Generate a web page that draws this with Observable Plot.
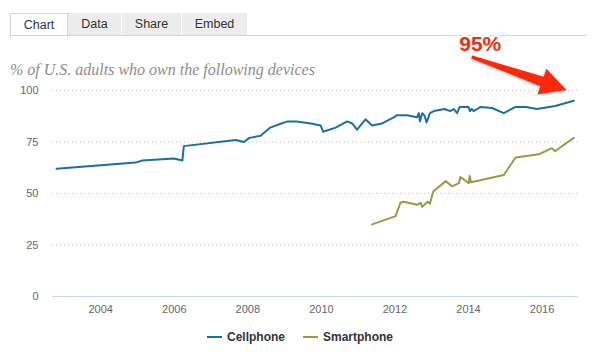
<!DOCTYPE html>
<html><head><meta charset="utf-8">
<script src="https://cdn.jsdelivr.net/npm/d3@7"></script>
<script src="https://cdn.jsdelivr.net/npm/@observablehq/plot@0.6"></script>
<style>
body{margin:0;background:#fff;width:600px;height:361px;overflow:hidden;font-family:"Liberation Sans",Arial,sans-serif;}
#header{position:relative;height:80px;}
.tabs{position:absolute;left:10px;top:13px;height:23px;display:flex;}
.tab{box-sizing:border-box;height:23px;line-height:22px;font-size:12.5px;color:#333;text-align:center;background:#ececec;border-right:1px solid #fff;}
.tab.active{background:#fff;border:1px solid #d8d8d8;border-bottom:none;height:24px;}
.rule{position:absolute;left:10px;width:577px;top:35px;border-top:1px solid #d6d6d6;}
.subtitle{position:absolute;left:10px;top:61px;font:italic 16px "Liberation Serif","DejaVu Serif",Georgia,serif;color:#8c8c8c;white-space:nowrap;}
#chart{position:relative;height:245px;}
#legend{position:absolute;left:0;top:329px;width:600px;height:16px;display:flex;justify-content:center;align-items:center;font:bold 12px "Liberation Sans",Arial,sans-serif;color:#333;}
.item{display:flex;align-items:center;margin:0 9px;}
.sw{width:15px;height:2px;margin-right:5px;}
</style>
</head><body>
<div id="header">
  <div class="tabs">
    <div class="tab active" style="width:58px">Chart</div>
    <div class="tab" style="width:54px">Data</div>
    <div class="tab" style="width:60px">Share</div>
    <div class="tab" style="width:66px">Embed</div>
  </div>
  <div class="rule"></div>
  <div class="subtitle">% of U.S. adults who own the following devices</div>
</div>
<div id="chart"></div>
<div id="legend"></div>
<script>
// ---- data (decimal years, % of adults) ----
const seriesNames = ["Cellphone", "Smartphone"];
const seriesColors = ["#1d6ea6", "#8fa044"];

const cellYears = [2002.80, 2004.95, 2005.13, 2005.99, 2006.22, 2006.26, 2007.67, 2007.90, 2008.04, 2008.35,
  2008.61, 2008.91, 2009.08, 2009.32, 2009.71, 2009.98, 2010.05, 2010.39, 2010.70, 2010.84,
  2010.97, 2011.20, 2011.38, 2011.65, 2011.97, 2012.06, 2012.15, 2012.33, 2012.60, 2012.65,
  2012.68, 2012.74, 2012.80, 2012.86, 2012.95, 2013.06, 2013.35, 2013.50, 2013.60, 2013.69,
  2013.76, 2014.00, 2014.04, 2014.09, 2014.14, 2014.33, 2014.64, 2014.96, 2015.28, 2015.57,
  2015.86, 2016.36, 2016.86];
const cellValues = [62, 65, 66, 67, 66, 73, 76, 75, 77, 78,
  82, 84, 85, 85, 84, 83, 80, 82, 85, 84,
  81, 86, 83, 84, 87, 88, 88, 88, 87, 89,
  85, 89, 88, 84.5, 89, 90, 91, 90, 91, 89,
  92, 92, 90, 91, 90, 92, 91.5, 89, 92, 92,
  91, 92.5, 95];

const smartYears = [2011.38, 2012.02, 2012.15, 2012.24, 2012.60, 2012.70, 2012.74, 2012.89, 2012.95, 2013.04,
  2013.38, 2013.55, 2013.74, 2013.78, 2014.01, 2014.03, 2014.07, 2014.96, 2015.28, 2015.91,
  2016.27, 2016.35, 2016.86];
const smartValues = [35, 39, 45.5, 46, 44.5, 45.5, 43.5, 46, 45, 51,
  56, 53.5, 55, 58, 55, 58.5, 55.5, 59, 67.5, 69,
  72, 70.5, 77];

const yTicks = [0, 25, 50, 75, 100];
const xTickYears = [2004, 2006, 2008, 2010, 2012, 2014, 2016];
const xDomainYears = [2002.69, 2016.99];

// annotation anchors (decimal year, %)
const annoText = "95%";
const annoAt = [2014.32, 122.5];
const arrowFrom = [2014.1, 116];
const arrowTo = [2016.68, 100];

function dec(y) {
  const yr = Math.floor(y);
  const s = Date.UTC(yr, 0, 1), e = Date.UTC(yr + 1, 0, 1);
  return new Date(s + (y - yr) * (e - s));
}

const rows = [
  ...cellYears.map((t, i) => ({date: dec(t), value: cellValues[i], series: seriesNames[0]})),
  ...smartYears.map((t, i) => ({date: dec(t), value: smartValues[i], series: seriesNames[1]}))
];

const plot = Plot.plot({
  width: 600, height: 245,
  marginTop: 10, marginBottom: 29, marginLeft: 52, marginRight: 22,
  style: {background: "transparent", overflow: "visible", fontFamily: "Liberation Sans, Arial, sans-serif", fontSize: "11px", color: "#666"},
  x: {type: "utc", domain: xDomainYears.map(dec), ticks: xTickYears.map(dec), tickFormat: d3.utcFormat("%Y"), tickSize: 0, tickPadding: 9, label: null},
  y: {domain: [0, 100], ticks: yTicks, tickSize: 0, tickPadding: 14, label: null},
  color: {domain: seriesNames, range: seriesColors},
  marks: [
    Plot.ruleY(yTicks.filter(d => d > 0), {stroke: "#bdbdbd", strokeDasharray: "1,3"}),
    Plot.ruleY([0], {stroke: "#ccd6eb"}),
    Plot.line(rows, {x: "date", y: "value", z: "series", stroke: "series", strokeWidth: 2}),
    Plot.text([{x: dec(annoAt[0]), y: annoAt[1], label: annoText}], {
      x: "x", y: "y", text: "label", fill: "#f9290c", stroke: "white", strokeWidth: 4,
      fontSize: 21, fontWeight: "bold", ariaLabel: "annotation"
    })
  ]
});
document.getElementById("chart").appendChild(plot);

// arrow drawn through the plot's scales
const sx = plot.scale("x"), sy = plot.scale("y");
const x0 = sx.apply(dec(arrowFrom[0])), y0 = sy.apply(arrowFrom[1]);
const x1 = sx.apply(dec(arrowTo[0])), y1 = sy.apply(arrowTo[1]);
const L = Math.hypot(x1 - x0, y1 - y0);
const ux = (x1 - x0) / L, uy = (y1 - y0) / L, nx = -uy, ny = ux;
const headLen = 26, headHalf = 13.5, w0 = 1.5, w1 = 5;
const bx = x1 - ux * headLen, by = y1 - uy * headLen;
const pts = [
  [x0 + nx * w0, y0 + ny * w0], [bx + nx * w1, by + ny * w1], [bx + nx * headHalf, by + ny * headHalf],
  [x1, y1], [bx - nx * headHalf, by - ny * headHalf], [bx - nx * w1, by - ny * w1], [x0 - nx * w0, y0 - ny * w0]
];
d3.select(plot).append("polygon")
  .attr("points", pts.map(p => p.join(",")).join(" "))
  .attr("fill", "#f9290c")
  .style("filter", "drop-shadow(0px 1px 1px rgba(0,0,0,0.3))");
d3.select(plot).selectAll('g[aria-label="annotation"] text')
  .style("paint-order", "stroke")
  .style("filter", "drop-shadow(0px 1px 1.5px rgba(0,0,0,0.45))");

// legend
const legend = d3.select("#legend");
seriesNames.forEach((n, i) => {
  const it = legend.append("div").attr("class", "item");
  it.append("div").attr("class", "sw").style("background", seriesColors[i]);
  it.append("span").text(n);
});
</script>
</body></html>
